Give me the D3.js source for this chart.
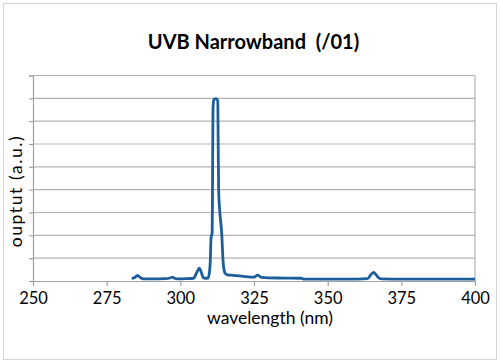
<!DOCTYPE html>
<html>
<head>
<meta charset="utf-8">
<script src="https://cdn.jsdelivr.net/npm/d3@7"></script>
<style>
  body { margin: 0; background: #fff; }
  svg text { font-family: Lato, "Open Sans", sans-serif; fill: #000; }
</style>
</head>
<body>
<svg width="500" height="364"></svg>
<script>
const width = 500;
const height = 364;

// spectrum
const wavelength = [283.5, 284.5, 285.5, 286.5, 287.5, 290, 295, 296.5, 297.3, 298, 299, 302, 304.5, 305.5, 306.4, 307.2, 307.8, 308.5, 309.4, 309.9, 310.2, 310.35, 310.5, 310.8, 310.9, 311.0, 311.1, 311.4, 311.8, 312.3, 312.7, 312.85, 313.0, 313.3, 313.7, 314.0, 314.6, 315.2, 316, 318, 320, 323, 325, 326.3, 327.5, 330, 335, 341, 342, 350, 360, 363.5, 364.7, 365.6, 366.5, 367.5, 368.5, 375, 390, 400];
const output = [0.010, 0.015, 0.024, 0.014, 0.009, 0.009, 0.010, 0.013, 0.017, 0.012, 0.009, 0.010, 0.012, 0.035, 0.056, 0.035, 0.014, 0.012, 0.013, 0.04, 0.10, 0.17, 0.195, 0.21, 0.35, 0.60, 0.76, 0.795, 0.798, 0.798, 0.79, 0.60, 0.40, 0.32, 0.26, 0.216, 0.07, 0.034, 0.027, 0.025, 0.022, 0.018, 0.017, 0.026, 0.016, 0.014, 0.013, 0.012, 0.008, 0.008, 0.008, 0.010, 0.028, 0.038, 0.026, 0.012, 0.009, 0.008, 0.008, 0.008];
const xTicks = [250, 275, 300, 325, 350, 375, 400];
const yTicks = [0, 0.1, 0.2, 0.3, 0.4, 0.5, 0.6, 0.7, 0.8, 0.9];

const data = wavelength.map((w, i) => ({ w: w, v: output[i] }));

const svg = d3.select('svg');
const margin = { top: 75.5, right: 25, bottom: 83, left: 33 };

const x = d3.scaleLinear().domain([250, 400]).range([margin.left, width - margin.right]);
const y = d3.scaleLinear().domain([0, 0.9]).range([height - margin.bottom, margin.top]);

// outer chart border
svg.append('rect')
  .attr('x', 3.5).attr('y', 3.5)
  .attr('width', 493).attr('height', 356)
  .attr('fill', 'white')
  .attr('stroke', '#d4d4d4');

// gridlines
svg.append('g')
  .selectAll('line')
  .data(yTicks.slice(1))
  .enter().append('line')
  .attr('x1', x(250)).attr('x2', x(400))
  .attr('y1', d => y(d)).attr('y2', d => y(d))
  .attr('stroke', '#b3b3b3')
  .attr('stroke-width', 1.2);

// right frame
svg.append('line')
  .attr('x1', x(400)).attr('x2', x(400))
  .attr('y1', y(0)).attr('y2', y(0.9))
  .attr('stroke', '#b3b3b3')
  .attr('stroke-width', 1.2);

// y axis (no labels)
const yAxis = svg.append('g')
  .attr('transform', `translate(${x(250)},0)`)
  .call(d3.axisLeft(y).tickValues(yTicks).tickSize(4).tickFormat(''));
yAxis.selectAll('path, line').attr('stroke', '#a0a0a0').attr('stroke-width', 1.2);

// x axis
const xAxis = svg.append('g')
  .attr('transform', `translate(0,${y(0)})`)
  .call(d3.axisBottom(x).tickValues(xTicks).tickSize(5).tickSizeOuter(0).tickPadding(6));
xAxis.selectAll('path, line').attr('stroke', '#a0a0a0').attr('stroke-width', 1.2);
xAxis.selectAll('text')
  .attr('font-size', 16.5)
  .style('font-family', 'Lato, sans-serif')
  .attr('fill', '#000');

// spectrum line
const line = d3.line()
  .x(d => x(d.w))
  .y(d => y(d.v))
  .curve(d3.curveMonotoneX);

svg.append('path')
  .datum(data)
  .attr('d', line)
  .attr('fill', 'none')
  .attr('stroke', '#1b5e9b')
  .attr('stroke-width', 2.8)
  .attr('stroke-linejoin', 'round');

// title
svg.append('text')
  .attr('x', 253.5).attr('y', 49)
  .attr('text-anchor', 'middle')
  .attr('font-size', 20)
  .attr('font-weight', 'bold')
  .attr('xml:space', 'preserve')
  .style('white-space', 'pre')
  .text('UVB Narrowband  (/01)');

// axis titles
svg.append('text')
  .attr('x', 270).attr('y', 324)
  .attr('text-anchor', 'middle')
  .attr('font-size', 17.5)
  .text('wavelength (nm)');

svg.append('text')
  .attr('transform', 'translate(22,191) rotate(-90)')
  .attr('text-anchor', 'middle')
  .attr('font-size', 17.5)
  .attr('letter-spacing', 1.6)
  .text('ouptut (a.u.)');
</script>
</body>
</html>
